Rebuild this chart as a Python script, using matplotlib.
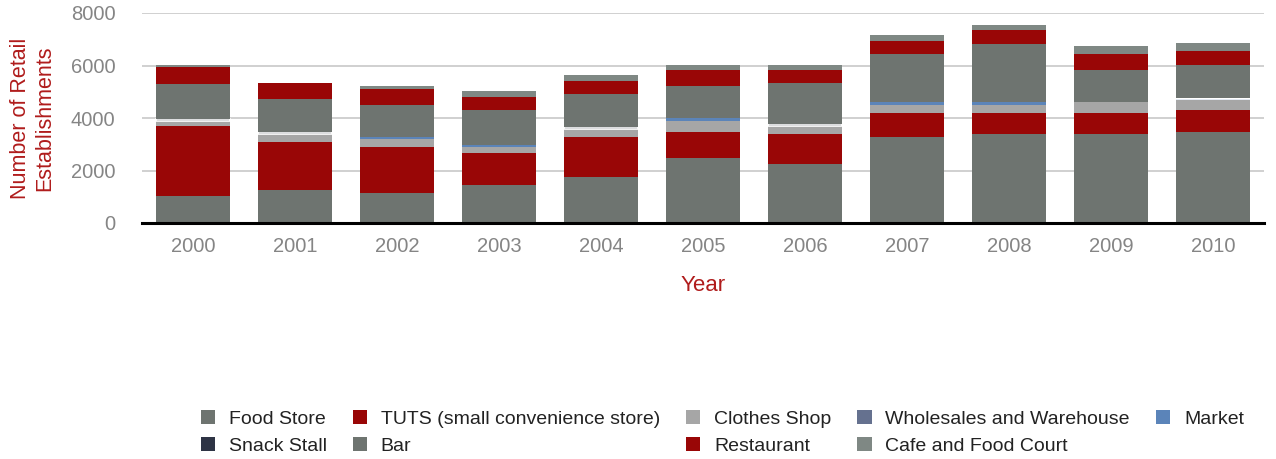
import numpy as np
import matplotlib
matplotlib.use("Agg")
import matplotlib.pyplot as plt
from matplotlib.patches import Patch

plt.rcParams["font.family"] = ["Liberation Sans", "DejaVu Sans"]

years = ["2000", "2001", "2002", "2003", "2004", "2005", "2006", "2007", "2008", "2009", "2010"]

food_store  = [1020, 1250, 1130, 1435, 1740, 2465, 2235, 3265, 3380, 3380, 3455]
tuts        = [2670, 1830, 1750, 1220, 1525,  990, 1145,  915,  800,  800,  840]
clothes     = [ 190,  305,  305,  230,  305,  420,  305,  305,  305,  420,  380]
wholesales  = [   0,    0,    0,    0,    0,    0,    0,    0,    0,    0,    0]
market      = [   0,    0,   75,   75,    0,  115,    0,  115,  115,    0,   40]
snack_stall = [  75,   85,    0,    0,   75,    0,   75,    0,    0,    0,   50]
bar         = [1330, 1245, 1220, 1335, 1260, 1220, 1565, 1830, 2210, 1220, 1245]
restaurant  = [ 650,  610,  610,  495,  495,  610,  495,  495,  535,  610,  535]
cafe        = [  75,    0,  115,  230,  230,  190,  190,  230,  190,  305,  305]

series = [
    ("Food Store", food_store, "#6e7470"),
    ("TUTS (small convenience store)", tuts, "#990606"),
    ("Clothes Shop", clothes, "#a6a6a6"),
    ("Wholesales and Warehouse", wholesales, "#65718f"),
    ("Market", market, "#5b84b9"),
    ("Snack Stall", snack_stall, "#2e3445"),
    ("Bar", bar, "#6e7470"),
    ("Restaurant", restaurant, "#990606"),
    ("Cafe and Food Court", cafe, "#7f8884"),
]

fig = plt.figure(figsize=(12.76, 4.59), dpi=100)
ax = fig.add_axes([142/1276, 1 - 223/459, 1122/1276, (223 - 13)/459])

x = np.arange(len(years))
bottom = np.zeros(len(years))
handles = {}
for name, vals, col in series:
    v = np.array(vals, dtype=float)
    idx = v > 0
    if name == "Snack Stall":
        ax.bar(x[idx], v[idx], bottom=bottom[idx], width=0.735, color=col,
               edgecolor="white", linewidth=1.2, zorder=3)
    elif idx.any():
        ax.bar(x[idx], v[idx], bottom=bottom[idx], width=0.735, color=col,
               linewidth=0, zorder=3)
    handles[name] = Patch(facecolor=col, edgecolor="none")
    bottom += v

ax.set_xlim(-0.5, len(years) - 0.5)
ax.set_ylim(0, 8000)
ax.set_yticks([0, 2000, 4000, 6000, 8000])
ax.set_xticks(x)
ax.set_xticklabels(years)
ax.yaxis.grid(True, color="#c8c8c8", linewidth=1.2, zorder=0)
ax.set_axisbelow(True)
for s in ["left", "right", "top"]:
    ax.spines[s].set_visible(False)
ax.spines["bottom"].set_color("black")
ax.spines["bottom"].set_linewidth(2.2)
ax.spines["bottom"].set_zorder(5)
ax.tick_params(axis="y", length=0, pad=19, labelsize=14.5, labelcolor="#858585")
ax.tick_params(axis="x", length=0, pad=10, labelsize=14.5, labelcolor="#858585")

ax.set_xlabel("Year", color="#b01c1c", fontsize=16, labelpad=13.5)
ax.set_ylabel("Number of Retail\nEstablishments", color="#b01c1c", fontsize=15.5,
              labelpad=11, linespacing=1.22)

order = ["Food Store", "Snack Stall", "TUTS (small convenience store)", "Bar",
         "Clothes Shop", "Restaurant", "Wholesales and Warehouse",
         "Cafe and Food Court", "Market"]
fig.legend([handles[n] for n in order], order, loc="center",
           bbox_to_anchor=(0.566, 0.058), ncol=5, frameon=False,
           fontsize=14, handlelength=0.75, handleheight=0.75,
           handletextpad=0.7, columnspacing=1.33, labelspacing=0.45,
           labelcolor="#222222")

fig.savefig("out.png", dpi=100)
